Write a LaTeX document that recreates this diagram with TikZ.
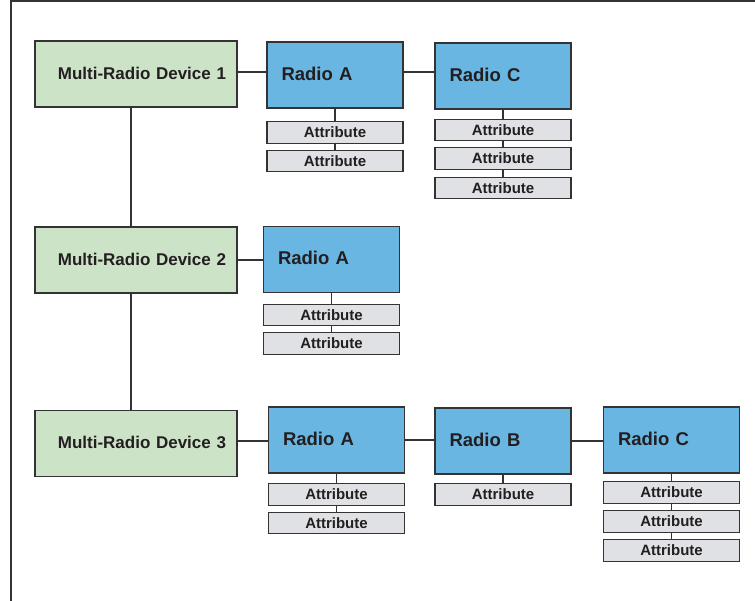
\documentclass[tikz,border=0pt]{standalone}
\usepackage{fontspec}
\setmainfont{Liberation Sans}
\definecolor{devfill}{HTML}{CDE3C8}
\definecolor{radfill}{HTML}{69B6E3}
\definecolor{attfill}{HTML}{DFE1E5}
\definecolor{edge}{HTML}{333333}
\definecolor{ink}{HTML}{231F20}
\tikzset{
  base/.style={draw=edge, line width=1.4pt, rectangle, text=ink, font=\bfseries},
  devbox/.style={base, fill=devfill, minimum height=66pt, text width=180pt, inner xsep=11pt, align=right, text depth=2pt, font=\fontsize{17}{20}\selectfont\bfseries},
  radbox/.style={base, fill=radfill, minimum height=66pt, text width=107pt, inner xsep=14.5pt, align=left, text depth=3pt, font=\fontsize{18.5}{22}\selectfont\bfseries},
  attbox/.style={base, fill=attfill, minimum width=136pt, minimum height=21.5pt, inner sep=0pt, font=\fontsize{15}{18}\selectfont\bfseries},
  conn/.style={draw=edge, line width=1.4pt}
}
\begin{document}
\begin{tikzpicture}[x=1pt,y=-1pt]
\useasboundingbox (0,0) rectangle (755,600);
\draw[draw=edge, line width=2pt] (11,601) -- (11,1) -- (756,1);
% devices
\node[devbox] (d1) at (136,74) {Multi-Radio Device 1};
\node[devbox] (d2) at (136,260) {Multi-Radio Device 2};
\node[devbox] (d3) at (136,443.5) {Multi-Radio Device 3};
% radios
\node[radbox] (r1a) at (335,75) {Radio A};
\node[radbox] (r1c) at (503,76) {Radio C};
\node[radbox] (r2a) at (331.5,259.5) {Radio A};
\node[radbox] (r3a) at (336.5,440) {Radio A};
\node[radbox] (r3b) at (503,441) {Radio B};
\node[radbox] (r3c) at (671.5,440) {Radio C};
% attributes
\node[attbox] (r1a1) at (335,132.5) {Attribute};
\node[attbox] (r1a2) at (335,161) {Attribute};
\node[attbox] (r1c1) at (503,130) {Attribute};
\node[attbox] (r1c2) at (503,158.5) {Attribute};
\node[attbox] (r1c3) at (503,188) {Attribute};
\node[attbox] (r2a1) at (331.5,315) {Attribute};
\node[attbox] (r2a2) at (331.5,343.5) {Attribute};
\node[attbox] (r3a1) at (336.5,494.5) {Attribute};
\node[attbox] (r3a2) at (336.5,523) {Attribute};
\node[attbox] (r3b1) at (503,494.5) {Attribute};
\node[attbox] (r3c1) at (671.5,492.5) {Attribute};
\node[attbox] (r3c2) at (671.5,521.5) {Attribute};
\node[attbox] (r3c3) at (671.5,550.5) {Attribute};
% vertical device links
\draw[conn] ([xshift=-5pt]d1.south) -- ([xshift=-5pt]d2.north);
\draw[conn] ([xshift=-5pt]d2.south) -- ([xshift=-5pt]d3.north);
% horizontal links
\draw[conn] ([yshift=2pt]d1.east) -- ([yshift=2pt]d1.east -| r1a.west);
\draw[conn] ([yshift=3pt]r1a.east) -- ([yshift=3pt]r1a.east -| r1c.west);
\draw[conn] (d2.east) -- (d2.east -| r2a.west);
\draw[conn] ([yshift=2.5pt]d3.east) -- ([yshift=2.5pt]d3.east -| r3a.west);
\draw[conn] (r3a.east) -- (r3a.east -| r3b.west);
\draw[conn] (r3b.east) -- (r3b.east -| r3c.west);
% attribute links
\draw[conn] (r1a.south) -- (r1a1.north);
\draw[conn] (r1a1.south) -- (r1a2.north);
\draw[conn] (r1c.south) -- (r1c1.north);
\draw[conn] (r1c1.south) -- (r1c2.north);
\draw[conn] (r1c2.south) -- (r1c3.north);
\draw[conn] (r2a.south) -- (r2a1.north);
\draw[conn] (r2a1.south) -- (r2a2.north);
\draw[conn] (r3a.south) -- (r3a1.north);
\draw[conn] (r3a1.south) -- (r3a2.north);
\draw[conn] (r3b.south) -- (r3b1.north);
\draw[conn] (r3c.south) -- (r3c1.north);
\draw[conn] (r3c1.south) -- (r3c2.north);
\draw[conn] (r3c2.south) -- (r3c3.north);
\end{tikzpicture}
\end{document}
